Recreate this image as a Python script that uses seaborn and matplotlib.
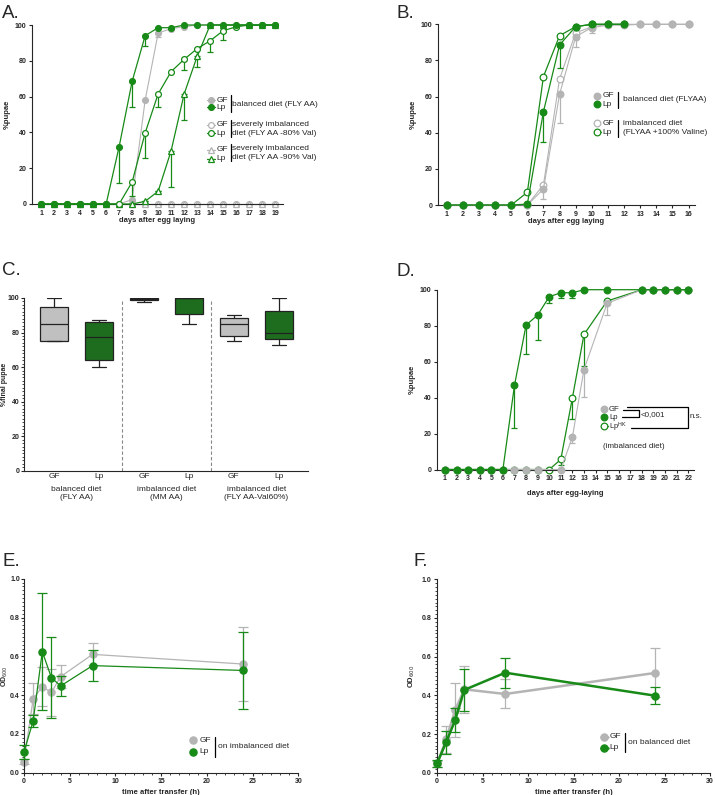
import matplotlib
matplotlib.use("Agg")
import numpy as np
import pandas as pd
import matplotlib.pyplot as plt
from matplotlib.lines import Line2D
from matplotlib.ticker import MultipleLocator
import seaborn as sns

GREEN = "#178a17"
GREY = "#b4b4b4"

# A. pupariation, FLY AA vs valine-depleted diets (days after egg laying)
days_a = list(range(1, 20))
a_gf_bal = [0, 0, 0, 0, 0, 0, 0, 2.5, 58, 95.5, 98, 99, 100, 100, 100, 100, 100, 100, 100]
a_gf_bal_err = [0, 0, 0, 0, 0, 0, 0, 0, 0, 2, 0, 0, 0, 0, 0, 0, 0, 0, 0]
a_lp_bal = [0, 0, 0, 0, 0, 0, 32, 68.5, 94, 98.5, 98.5, 100, 100, 100, 100, 100, 100, 100, 100]
a_lp_bal_err = [0, 0, 0, 0, 0, 0, 20, 14.5, 6, 1, 1, 0, 0, 0, 0, 0, 0, 0, 0]
a_gf_80 = [0] * 19
a_lp_80 = [0, 0, 0, 0, 0, 0, 0, 12.3, 39.7, 61.5, 74, 80.8, 86.8, 91.2, 96.8, 99, 100, 100, 100]
a_lp_80_err = [0, 0, 0, 0, 0, 0, 0, 8, 14, 7.5, 0, 6, 0, 6.5, 5, 0, 0, 0, 0]
a_gf_90 = [0] * 19
a_lp_90 = [0, 0, 0, 0, 0, 0, 0, 0, 1.5, 7.1, 29.8, 61.5, 82.5, 100, 100, 100, 100, 100, 100]
a_lp_90_err = [0, 0, 0, 0, 0, 0, 0, 0, 0, 0, 20.5, 14.5, 6, 0, 0, 0, 0, 0, 0]

# B. FLYAA vs FLYAA + 100% valine
days_b = list(range(1, 17))
b_gf_bal = [0, 0, 0, 0, 0, 0, 8.8, 61.3, 93.2, 98.2, 99.5, 99.5, 100, 100, 100, 100]
b_gf_bal_err = [0, 0, 0, 0, 0, 0, 5.5, 16, 6, 3, 0, 0, 0, 0, 0, 0]
days_b_lp = list(range(1, 13))
b_lp_bal = [0, 0, 0, 0, 0, 0.5, 51.7, 88.6, 98.7, 100, 100, 100]
b_lp_bal_err = [0, 0, 0, 0, 0, 0, 16.7, 12.6, 0, 0, 0, 0]
b_gf_imb = [0, 0, 0, 0, 0, 0, 11.2, 69.8, 95.4, 98.5, 100, 100, 100, 100, 100, 100]
b_lp_imb = [0, 0, 0, 0, 0, 7, 71.1, 93.7, 98.7, 100, 100, 100]

# C. % final pupae (min, q1, median, q3, max)
c_groups = ["GF bal", "Lp bal", "GF MM", "Lp MM", "GF val", "Lp val"]
c_ticklabels = ["GF", "Lp", "GF", "Lp", "GF", "Lp"]
c_diets = ["balanced diet\n(FLY AA)", "imbalanced diet\n(MM AA)", "imbalanced diet\n(FLY AA-Val60%)"]
c_values = [
    [75, 75, 85, 95, 100],
    [60, 64, 77.5, 86, 87.5],
    [97.5, 99, 99.5, 100, 100],
    [85, 90.5, 100, 100, 100],
    [75, 78, 85, 88.5, 90],
    [72.5, 76.5, 80, 92.5, 100],
]

# D. imbalanced diet, GF / Lp / heat-killed Lp
days_d = [1, 2, 3, 4, 5, 6, 7, 8, 9, 10, 11, 12, 13, 15, 18, 19, 20, 21, 22]
d_lp = [0, 0, 0, 0, 0, 0, 46.8, 80.3, 85.9, 96.1, 98.3, 98.3, 100, 100, 100, 100, 100, 100, 100]
d_lp_err = [0, 0, 0, 0, 0, 0, 23.6, 16.2, 13.6, 3.7, 2.8, 2.8, 0, 0, 0, 0, 0, 0, 0]
days_d_gf = [1, 2, 3, 4, 5, 6, 7, 8, 9, 11, 12, 13, 15, 18, 19, 20, 21, 22]
d_gf = [0, 0, 0, 0, 0, 0, 0, 0, 0, 0, 18, 55.6, 92.4, 100, 100, 100, 100, 100]
d_gf_err = [0, 0, 0, 0, 0, 0, 0, 0, 0, 0, 3, 15.3, 6.4, 0, 0, 0, 0, 0]
d_hk = [0, 0, 0, 0, 0, 0, 0, 0, 0, 0, 5.6, 39.8, 75.1, 93.7, 100, 100, 100, 100, 100]
d_hk_err = [0, 0, 0, 0, 0, 0, 0, 0, 0, 0, 3, 11.5, 17.7, 0, 0, 0, 0, 0, 0]

# E. OD after transfer, imbalanced diet
t_e = [0, 1, 2, 3, 4, 7.5, 24]
e_gf = [0.057, 0.381, 0.443, 0.414, 0.495, 0.61, 0.56]
e_gf_err = [0.012, 0.079, 0.1, 0.12, 0.06, 0.057, 0.19]
e_lp = [0.108, 0.266, 0.624, 0.49, 0.447, 0.552, 0.527]
e_lp_err = [0.035, 0.033, 0.3, 0.21, 0.05, 0.08, 0.197]

# F. OD after transfer, balanced diet
t_f = [0, 1, 2, 3, 7.5, 24]
f_gf = [0.043, 0.172, 0.324, 0.431, 0.407, 0.516]
f_gf_err = [0.015, 0.07, 0.14, 0.12, 0.075, 0.127]
f_lp = [0.048, 0.157, 0.272, 0.428, 0.517, 0.398]
f_lp_err = [0.02, 0.06, 0.06, 0.11, 0.078, 0.044]

sns.set_style("ticks")
plt.rcParams["font.family"] = ["Liberation Sans", "DejaVu Sans"]
plt.rcParams["axes.linewidth"] = 0.8

W, H = 715, 795
fig = plt.figure(figsize=(W / 100, H / 100), dpi=100)


def fx(x):
    return x / W


def fy(y):
    return 1 - y / H


def add_ax(l, t, r, b):
    return fig.add_axes([l / W, 1 - b / H, (r - l) / W, (b - t) / H])


def style(ax):
    sns.despine(ax=ax)
    ax.tick_params(axis="both", which="major", length=2.5, width=0.8, pad=1.5, labelsize=5)
    ax.tick_params(axis="both", which="minor", length=1.3, width=0.6)
    for lab in ax.get_xticklabels() + ax.get_yticklabels():
        lab.set_fontweight("bold")


def series(ax, x, y, color, marker="o", filled=True, ms=4.2, lw=0.9, err=None,
           both=False, cap=2.2, z=2):
    if err is not None:
        e = np.asarray(err, dtype=float)
        yerr = [e, e] if both else [e, np.zeros_like(e)]
        ax.errorbar(x, y, yerr=yerr, fmt="none", ecolor=color, elinewidth=0.9,
                    capsize=cap, capthick=0.9, zorder=z, clip_on=False)
    sns.lineplot(x=x, y=y, ax=ax, color=color, lw=lw, marker=marker, markersize=ms,
                 markerfacecolor=color if filled else "white", markeredgecolor=color,
                 markeredgewidth=0.9, errorbar=None, sort=False, zorder=z + 0.5, clip_on=False)


def key(x, y, color, marker="o", filled=True, ms=4.2, half=4, lw=0.9):
    fig.add_artist(Line2D([fx(x - half), fx(x + half)], [fy(y), fy(y)], color=color, lw=lw))
    fig.add_artist(Line2D([fx(x)], [fy(y)], marker=marker, ms=ms, ls="none",
                          mfc=color if filled else "white", mec=color, mew=0.9))


def txt(x, y, s, size=6, **kw):
    kw.setdefault("va", "center")
    fig.text(fx(x), fy(y), s, fontsize=size, **kw)


def seg(xs, ys, lw=0.9):
    fig.add_artist(Line2D([fx(v) for v in xs], [fy(v) for v in ys], color="black", lw=lw))


for letter, x, y in [("A.", 2, 18.5), ("B.", 396, 17.5), ("C.", 2, 275), ("D.", 397, 276),
                     ("E.", 2, 566.5), ("F.", 413, 566)]:
    txt(x, y, letter, size=13.5, va="baseline")

# ---------------- A ----------------
axA = add_ax(32, 25, 283, 204)
series(axA, days_a, a_gf_bal, GREY, err=a_gf_bal_err, lw=0.8)
series(axA, days_a, a_gf_80, GREY, filled=False, lw=0.8)
series(axA, days_a, a_gf_90, GREY, marker="^", filled=False, lw=0.8)
series(axA, days_a, a_lp_90, GREEN, marker="^", filled=False, err=a_lp_90_err, z=3)
series(axA, days_a, a_lp_80, GREEN, filled=False, err=a_lp_80_err, z=3)
series(axA, days_a, a_lp_bal, GREEN, err=a_lp_bal_err, z=4)
axA.set_xlim(0.3, 19.6)
axA.set_ylim(0, 100)
axA.set_xticks(days_a)
axA.set_yticks(range(0, 101, 20))
style(axA)
axA.set_xlabel("days after egg laying", fontsize=5.5, fontweight="bold", labelpad=0.5)
axA.set_ylabel("%pupae", fontsize=5.5, fontweight="bold", labelpad=3)

key(210.7, 100, GREY)
key(210.7, 107.3, GREEN)
txt(216.5, 100, "GF")
txt(216.5, 107.5, "Lp")
seg([230.7, 230.7], [95, 112])
txt(232.5, 104.5, "balanced diet (FLY AA)")
key(210.7, 125, GREY, filled=False)
key(210.7, 133.3, GREEN, filled=False)
txt(216.5, 125, "GF")
txt(216.5, 133.5, "Lp")
seg([230.7, 230.7], [120, 137])
txt(232.5, 124, "severely imbalanced")
txt(232.5, 133.5, "diet (FLY AA -80% Val)")
key(210.7, 149.5, GREY, marker="^", filled=False)
key(210.7, 159, GREEN, marker="^", filled=False)
txt(216.5, 149.5, "GF")
txt(216.5, 159, "Lp")
seg([230.7, 230.7], [144, 161])
txt(232.5, 148, "severely imbalanced")
txt(232.5, 157.5, "diet (FLY AA -90% Val)")

# ---------------- B ----------------
axB = add_ax(437.7, 24.3, 695, 205)
series(axB, days_b, b_gf_imb, GREY, filled=False, ms=4.8, lw=0.8)
series(axB, days_b_lp, b_lp_imb, GREEN, filled=False, ms=4.8, z=3)
series(axB, days_b, b_gf_bal, GREY, ms=4.8, err=b_gf_bal_err, lw=0.8, z=4)
series(axB, days_b_lp, b_lp_bal, GREEN, ms=4.8, err=b_lp_bal_err, z=5)
axB.set_xlim(0.44, 16.4)
axB.set_ylim(0, 100)
axB.set_xticks(days_b)
axB.set_yticks(range(0, 101, 20))
style(axB)
axB.set_xlabel("days after egg laying", fontsize=5.5, fontweight="bold", labelpad=0.5)
axB.set_ylabel("%pupae", fontsize=5.5, fontweight="bold", labelpad=3)

key(597.3, 95.7, GREY, ms=4.8, half=0)
key(597.3, 104.3, GREEN, ms=4.8, half=0)
txt(602.5, 95.7, "GF")
txt(602.5, 104.5, "Lp")
seg([617.7, 617.7], [92, 108])
txt(623.3, 99.5, "balanced diet (FLYAA)")
key(597.3, 123.3, GREY, filled=False, ms=4.8, half=0)
key(597.3, 132.3, GREEN, filled=False, ms=4.8, half=3.5)
txt(602.5, 123.3, "GF")
txt(602.5, 132.5, "Lp")
seg([617.7, 617.7], [120, 137])
txt(623.3, 123.5, "imbalanced diet")
txt(623.3, 133, "(FLYAA +100% Valine)")

# ---------------- C ----------------
axC = add_ax(24, 298, 308, 470.7)
c_df = pd.DataFrame({
    "group": np.repeat(c_groups, [len(v) for v in c_values]),
    "value": np.concatenate(c_values),
})
sns.boxplot(data=c_df, x="group", y="value", hue="group", order=c_groups,
            palette=["#c0c0c0", "#117a11"] * 3, legend=False, width=0.62,
            whis=(0, 100), linecolor="#222222", linewidth=0.9, ax=axC)
for xv in (1.5, 3.5):
    axC.plot([xv, xv], [0, 98], color="#888888", lw=0.8, ls=(0, (3, 2)))
axC.set_xlim(-0.67, 5.65)
axC.set_ylim(0, 100)
axC.set_yticks(range(0, 101, 20))
axC.yaxis.set_minor_locator(MultipleLocator(2))
axC.set_xticks(range(6))
axC.set_xticklabels(c_ticklabels)
style(axC)
axC.tick_params(axis="y", pad=1)
axC.tick_params(axis="x", length=0, labelsize=6, pad=2)
for lab in axC.get_xticklabels():
    lab.set_fontweight("normal")
axC.set_xlabel("")
axC.set_ylabel("%final pupae", fontsize=5, fontweight="bold", labelpad=0)
for i, d in enumerate(c_diets):
    axC.text(2 * i + 0.5, -0.09, d, transform=axC.get_xaxis_transform(), ha="center",
             va="top", fontsize=6, linespacing=1.2)

# ---------------- D ----------------
axD = add_ax(437, 289.7, 694, 469.5)
series(axD, days_d, d_hk, GREEN, filled=False, ms=4.8, err=d_hk_err, z=2)
series(axD, days_d_gf, d_gf, GREY, ms=4.8, err=d_gf_err, lw=0.8, z=3)
series(axD, days_d, d_lp, GREEN, ms=4.8, err=d_lp_err, z=4)
axD.set_xlim(0.31, 22.5)
axD.set_ylim(0, 100)
axD.set_xticks(range(1, 23))
axD.set_yticks(range(0, 101, 20))
style(axD)
axD.set_xlabel("days after egg-laying", fontsize=5.5, fontweight="bold", labelpad=6)
axD.set_ylabel("%pupae", fontsize=5.5, fontweight="bold", labelpad=3)

key(604, 409.3, GREY, ms=4.8, half=0)
key(604, 417.3, GREEN, ms=4.8, half=0)
key(604, 426, GREEN, filled=False, ms=4.8, half=3.5)
txt(609, 409.3, "GF", size=5.6)
txt(609, 417.3, "Lp", size=5.6)
txt(609, 427.8, "Lp$^{\\mathrm{HK}}$", size=5.4)
seg([623, 639.3, 639.3, 622], [409.5, 409.5, 417.3, 417.3])
txt(641, 414.5, "<0,001", size=5.8)
seg([626.7, 688.3, 688.3, 631], [406.7, 406.7, 427.7, 427.7])
txt(690, 417, "n.s.", size=5.8)
txt(634, 446, "(imbalanced diet)", size=5.8, ha="center")

# ---------------- E ----------------
axE = add_ax(24, 578.7, 298.3, 772.7)
series(axE, t_e, e_gf, GREY, ms=5.2, err=e_gf_err, both=True, cap=3.5, lw=0.9, z=2)
series(axE, t_e, e_lp, GREEN, ms=5.2, err=e_lp_err, both=True, cap=3.5, lw=0.9, z=3)
axE.set_xlim(0, 30)
axE.set_ylim(0, 1)
axE.set_xticks(range(0, 31, 5))
axE.set_yticks(np.arange(0, 1.01, 0.2))
axE.set_yticklabels([f"{v:.1f}" for v in np.arange(0, 1.01, 0.2)])
axE.xaxis.set_minor_locator(MultipleLocator(1))
axE.yaxis.set_minor_locator(MultipleLocator(0.02))
style(axE)
axE.tick_params(axis="y", pad=0.5)
axE.set_xlabel("time after transfer (h)", fontsize=5.5, fontweight="bold", labelpad=3)
axE.set_ylabel("OD$_{600}$", fontsize=5, fontweight="bold", labelpad=0)

key(192.7, 740, GREY, ms=5.2, half=0)
key(192.7, 751.7, GREEN, ms=5.2, half=0)
txt(199.5, 740, "GF")
txt(199.5, 751.7, "Lp")
seg([215, 215], [737, 757])
txt(217.5, 746.5, "on imbalanced diet")

# ---------------- F ----------------
axF = add_ax(437, 579.3, 710, 772.7)
series(axF, t_f, f_gf, GREY, ms=5.2, err=f_gf_err, both=True, cap=3.5, lw=1.8, z=2)
series(axF, t_f, f_lp, GREEN, ms=5.2, err=f_lp_err, both=True, cap=3.5, lw=1.8, z=3)
axF.set_xlim(0, 30)
axF.set_ylim(0, 1)
axF.set_xticks(range(0, 31, 5))
axF.set_yticks(np.arange(0, 1.01, 0.2))
axF.set_yticklabels([f"{v:.1f}" for v in np.arange(0, 1.01, 0.2)])
axF.xaxis.set_minor_locator(MultipleLocator(1))
axF.yaxis.set_minor_locator(MultipleLocator(0.02))
style(axF)
axF.set_xlabel("time after transfer (h)", fontsize=5.5, fontweight="bold", labelpad=3)
axF.set_ylabel("OD$_{600}$", fontsize=5.5, fontweight="bold", labelpad=3)

key(604.3, 736.7, GREY, ms=5.2, half=3.5, lw=1.8)
key(604.3, 747.7, GREEN, ms=5.2, half=3.5, lw=1.8)
txt(609.5, 736.7, "GF")
txt(609.5, 747.7, "Lp")
seg([625, 625], [733, 752])
txt(627.5, 742, "on balanced diet")

fig.savefig("out.png", dpi=100)
